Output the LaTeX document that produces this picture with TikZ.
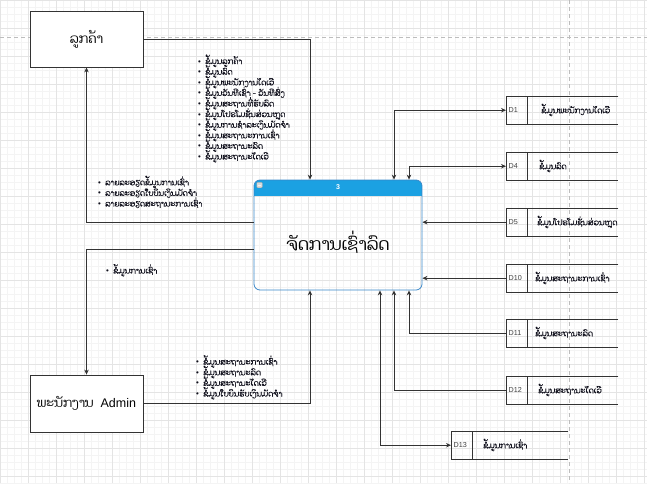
\documentclass[tikz,border=0pt]{standalone}
\usepackage{fontspec}
\setmainfont{Liberation Sans}
\newfontfamily\laofont[Script=Lao]{Dhyana}
\newfontfamily\laofontb[Script=Lao,FakeBold=0.5]{Dhyana}
\usetikzlibrary{arrows.meta,calc}
\definecolor{gridmin}{HTML}{F4F4F4}
\definecolor{gridmaj}{HTML}{E4E4E4}
\definecolor{linec}{HTML}{333333}
\definecolor{headblue}{HTML}{1BA1E2}
\definecolor{procedge}{HTML}{3A87C8}
\definecolor{pagebrk}{HTML}{BDBDBD}
\definecolor{lsttext}{HTML}{10101C}
\newcommand\bitem[1]{\makebox[7pt][l]{\textbullet}{\laofontb #1}}
\newcommand\lstfont{\fontsize{7.9}{10.6}\selectfont\lineskiplimit=-30pt\relax\lineskip=0pt\relax}
\newcommand\dstore[7]{%
  \node[storebox, minimum width=#4pt, anchor=north west] (#1) at (#2,#3) {};
  \draw[storeline] (#1.north east) -- (#1.north west) -- (#1.south west) -- (#1.south east);
  \draw[storeline] ([xshift=21pt]#1.north west) -- ([xshift=21pt]#1.south west);
  \node[dlab, anchor=west] (#1id) at ([xshift=2.5pt]#1.west) {#5};
  \node[slab, anchor=west] (#1txt) at (#7,#3+14) {#6};}
\tikzset{
  actor/.style={draw=linec, fill=white, line width=0.8pt, minimum width=113pt,
    minimum height=56pt, inner sep=0pt},
  conn/.style={draw=linec, line width=0.7pt, -{Stealth[length=5pt,width=4.5pt]}},
  bconn/.style={draw=linec, line width=0.7pt,
    {Stealth[length=5pt,width=4.5pt]}-{Stealth[length=5pt,width=4.5pt]}},
  storebox/.style={minimum height=28pt, inner sep=0pt},
  storeline/.style={draw=linec, line width=0.8pt},
  lst/.style={align=left, inner sep=0pt, anchor=base west, text=lsttext, font=\lstfont},
  dlab/.style={inner sep=0pt, font=\fontsize{7.2}{8}\selectfont, text=black!75},
  slab/.style={inner sep=0pt, text=lsttext, font=\laofontb\fontsize{7.9}{9}\selectfont}
}
\begin{document}
\begin{tikzpicture}[x=1pt,y=-1pt]
\useasboundingbox (0,0) rectangle (647,483);
% grid
\draw[gridmin, line width=0.4pt, step=7pt] (0,0) grid (647,483);
\draw[gridmaj, line width=0.4pt, step=28pt] (0,0) grid (647,483);
% page breaks
\draw[pagebrk, line width=0.6pt, dash pattern=on 4pt off 3pt] (0,37) -- (647,37);
\draw[pagebrk, line width=0.6pt, dash pattern=on 4pt off 3pt] (569,0) -- (569,483);

% actors
\node[actor, font=\laofont\fontsize{13}{15}\selectfont] (cust) at (86.5,39) {ລູກຄ້າ};
\node[actor, minimum height=57pt, font=\fontsize{12.5}{15}\selectfont] (admin) at (86.5,403.5)
  {{\laofont ພະນັກງານ}\ \ Admin};

% process
\begin{scope}
  \clip[rounded corners=6pt] (254,180) rectangle (422,290);
  \fill[headblue] (254,180) rectangle (422,195.5);
\end{scope}
\node[draw=procedge, line width=0.8pt, rounded corners=6pt, minimum width=168pt,
  minimum height=110pt, inner sep=0pt] (proc) at (338,235) {};
\node[text=white, font=\bfseries\fontsize{7}{8}\selectfont, inner sep=0pt] (proch) at (338,187.5) {3};
\node[draw=gray!70, fill=gray!30, rounded corners=0.8pt, minimum size=5.5pt, inner sep=0pt] (procmin) at (259.5,185) {};
\draw[gray!10, line width=0.8pt] ([xshift=-1.6pt]procmin.center) -- ([xshift=1.6pt]procmin.center);
\node[font=\laofont\fontsize{17}{20}\selectfont, inner sep=0pt] (proct) at (338,242) {ຈັດການເຊົ່າລົດ};

% data stores
\dstore{d1}{506}{96}{112}{D1}{ຂໍ້ມູນພະນັກງານໄດເວີ}{541}
\dstore{d4}{506}{152}{112}{D4}{ຂໍ້ມູນລົດ}{539}
\dstore{d5}{506}{208}{112}{D5}{ຂໍ້ມູນໂປຣໂມຊັ່ນສ່ວນຫຼຸດ}{537}
\dstore{d10}{506}{264}{112}{D10}{ຂໍ້ມູນສະຖານະການເຊົ່າ}{535}
\dstore{d11}{506}{319}{112}{D11}{ຂໍ້ມູນສະຖານະລົດ}{535}
\dstore{d12}{506}{376}{112}{D12}{ຂໍ້ມູນສະຖານະໄດເວີ}{538}
\dstore{d13}{451}{431}{117}{D13}{ຂໍ້ມູນການເຊົ່າ}{483}

% connectors
\draw[conn] (cust.east) -| ([xshift=-28pt]proc.north);
\draw[conn] ([yshift=13pt]proc.west) -| (cust.south);
\draw[conn] ([yshift=-14pt]proc.west) -| (admin.north);
\draw[conn] (admin.east) -| ([xshift=-28pt]proc.south);
\draw[bconn] (d1.west) -| ([xshift=56pt]proc.north);
\draw[bconn] (d4.west) -| ([xshift=71pt]proc.north);
\draw[conn] (d5.west) -- (d5.west -| proc.east);
\draw[conn] (d10.west) -- (d10.west -| proc.east);
\draw[conn] (d11.west) -| ([xshift=71pt]proc.south);
\draw[conn] (d12.west) -| ([xshift=56pt]proc.south);
\draw[bconn] ([xshift=42pt]proc.south) |- (d13.west);

% labels (anchored at the baseline of the last line)
\node[lst] (l1) at (198,159.5) {%
\bitem{ຂໍ້ມູນລູກຄ້າ}\\
\bitem{ຂໍ້ມູນລົດ}\\
\bitem{ຂໍ້ມູນພະນັກງານໄດເວີ}\\
\bitem{ຂໍ້ມູນວັນທີເຊົ່າ - ວັນທີສົ່ງ}\\
\bitem{ຂໍ້ມູນສະຖານທີ່ຮັບລົດ}\\
\bitem{ຂໍ້ມູນໂປຣໂມຊັ່ນສ່ວນຫຼຸດ}\\
\bitem{ຂໍ້ມູນການຊຳລະເງິນມັດຈຳ}\\
\bitem{ຂໍ້ມູນສະຖານະການເຊົ່າ}\\
\bitem{ຂໍ້ມູນສະຖານະລົດ}\\
\bitem{ຂໍ້ມູນສະຖານະໄດເວີ}};
\node[lst] (l2) at (98,206.5) {%
\bitem{ລາຍລະອຽດຂໍ້ມູນການເຊົ່າ}\\
\bitem{ລາຍລະອຽດໃບບິນເງິນມັດຈຳ}\\
\bitem{ລາຍລະອຽດສະຖານະການເຊົ່າ}};
\node[lst] (l3) at (106,273.5) {\bitem{ຂໍ້ມູນການເຊົ່າ}};
\node[lst] (l4) at (196,396.5) {%
\bitem{ຂໍ້ມູນສະຖານະການເຊົ່າ}\\
\bitem{ຂໍ້ມູນສະຖານະລົດ}\\
\bitem{ຂໍ້ມູນສະຖານະໄດເວີ}\\
\bitem{ຂໍ້ມູນໃບບິນຮັບເງິນມັດຈຳ}};
\end{tikzpicture}
\end{document}
